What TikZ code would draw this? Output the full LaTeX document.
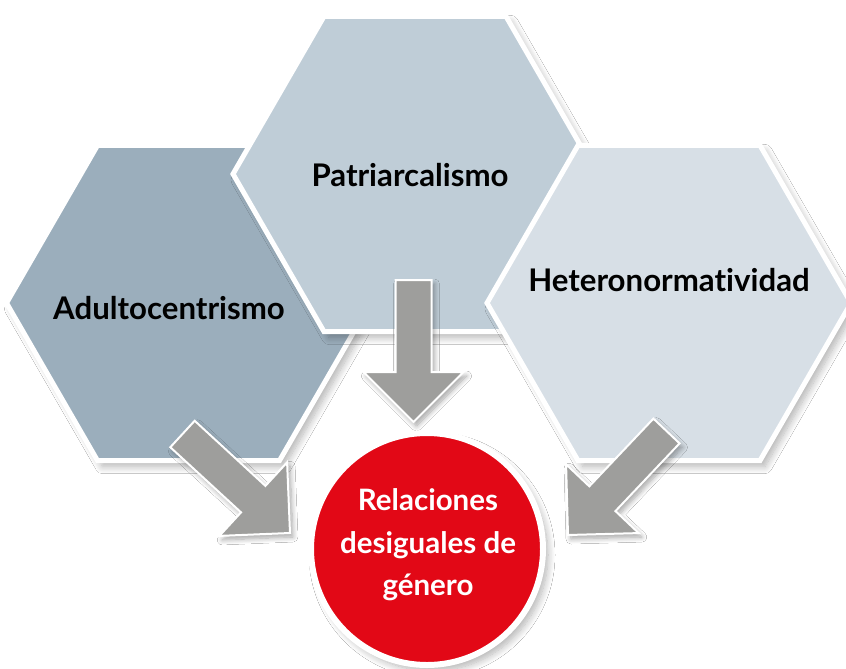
\documentclass[tikz,border=0pt]{standalone}
\usepackage{fontspec}
\setmainfont{Lato}[Ligatures={NoCommon}]
\usetikzlibrary{calc,shapes.geometric,shadows.blur}
\definecolor{hexA}{RGB}{155,174,188}
\definecolor{hexB}{RGB}{191,205,215}
\definecolor{hexC}{RGB}{215,223,230}
\definecolor{arrowgray}{RGB}{158,158,156}
\definecolor{relred}{RGB}{226,8,22}
\tikzset{
  softshadow/.style={blur shadow={shadow xshift=5pt, shadow yshift=-6pt, shadow blur radius=7pt, shadow blur steps=12, shadow opacity=30}},
  hexbox/.style={regular polygon, regular polygon sides=6, minimum size=364pt, inner sep=0pt, draw=white, line width=5pt, softshadow},
  hexlabel/.style={anchor=base, text=black, font=\fontsize{31.2}{37}\selectfont\bfseries},
  blockarrow/.style={fill=arrowgray, draw=white, line width=2pt, line join=miter,
    blur shadow={shadow xshift=3pt, shadow yshift=-4pt, shadow blur radius=5pt, shadow blur steps=8, shadow opacity=35}},
  redcircle/.style={circle, fill=relred, draw=white, line width=6pt, minimum size=232pt, inner sep=0pt, softshadow},
  redtext/.style={text=white, align=center, font=\fontsize{29.5}{42.5}\selectfont\bfseries}
}
\newcommand\blkarrow[2]{%
  \coordinate (ab) at ($(#2)!50pt!(#1)$);
  \filldraw[blockarrow] ($(#1)!18pt!90:(#2)$) -- ($(ab)!18pt!90:(#2)$) -- ($(ab)!50pt!90:(#2)$)
    -- (#2) -- ($(ab)!50pt!-90:(#2)$) -- ($(ab)!18pt!-90:(#2)$) -- ($(#1)!18pt!-90:(#2)$) -- cycle;}
\begin{document}
\begin{tikzpicture}[x=1pt,y=-1pt]
  \useasboundingbox (0,0) rectangle (846,669);
  \fill[white] (0,0) rectangle (846,669);
  % hexagons
  \node[hexbox, fill=hexA] (adult) at (188.5,303) {};
  \node[hexbox, fill=hexB] (patri) at (415,174) {};
  \node[hexbox, fill=hexC] (hetero) at (669,303) {};
  \node[hexlabel] (tadult) at (169,319) {Adultocentrismo};
  \node[hexlabel] (tpatri) at (410,186) {Patriarcalismo};
  \node[hexlabel] (thetero) at (669,291) {Heteronormatividad};
  % arrows
  \coordinate (lt) at (182.5,434);
  \coordinate (lp) at (290,533);
  \coordinate (mt) at (413.5,280);
  \coordinate (mp) at (413.5,422);
  \coordinate (rt) at (666.5,431);
  \coordinate (rp) at (568,535);
  \blkarrow{lt}{lp}
  \blkarrow{mt}{mp}
  \blkarrow{rt}{rp}
  % result
  \node[redcircle] (rel) at (427,549) {};
  \node[redtext] (reltext) at ($(rel.center)+(1,-4)$) {Relaciones\\desiguales de\\género};
\end{tikzpicture}
\end{document}
